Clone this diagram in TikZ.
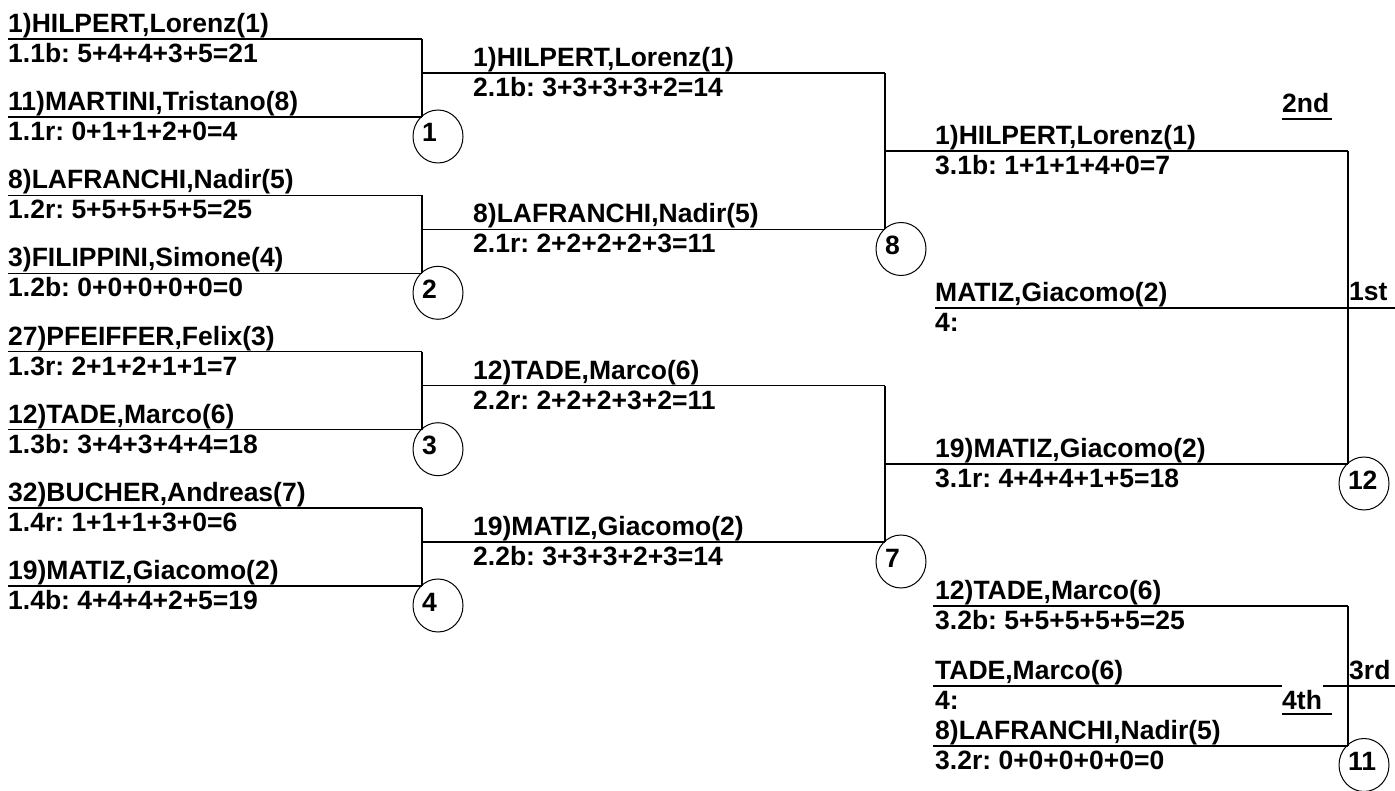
\documentclass[tikz,border=0pt]{standalone}
\usepackage{fontspec}
\setmainfont{Liberation Sans}
\usetikzlibrary{shapes.geometric}
\frenchspacing
\tikzset{
  ln/.style={line width=1.2pt, black},
  txt/.style={anchor=base west, inner sep=0pt, font=\fontsize{26.5}{30}\selectfont\bfseries},
  seed/.style={ellipse, draw, line width=1pt, minimum width=50pt, minimum height=53pt, inner sep=0pt,
    text height=11pt, text depth=0pt, font=\fontsize{26.5}{30}\selectfont\bfseries}
}
% #1 id, #2 x0, #3 x1, #4 text x, #5 y, #6 name, #7 score
\newcommand\bkslot[7]{%
  \coordinate (#1-l) at (#2,#5);
  \coordinate (#1-r) at (#3,#5);
  \draw[ln] (#1-l) -- (#1-r);
  \node[txt] (#1-n) at (#4,#5-6.5) {#6};
  \node[txt] (#1-s) at (#4,#5+23.7) {#7};
}
\begin{document}
\begin{tikzpicture}[x=1pt,y=-1pt]
\useasboundingbox (0,0) rectangle (1395,791);
% round 1
\bkslot{a1}{8}{422}{8}{39}{1)HILPERT,Lorenz(1)}{1.1b: 5+4+4+3+5=21}
\bkslot{b1}{8}{422}{8}{117}{11)MARTINI,Tristano(8)}{1.1r: 0+1+1+2+0=4}
\bkslot{a2}{8}{422}{8}{195.3}{8)LAFRANCHI,Nadir(5)}{1.2r: 5+5+5+5+5=25}
\bkslot{b2}{8}{422}{8}{273.3}{3)FILIPPINI,Simone(4)}{1.2b: 0+0+0+0+0=0}
\bkslot{a3}{8}{422}{8}{351.7}{27)PFEIFFER,Felix(3)}{1.3r: 2+1+2+1+1=7}
\bkslot{b3}{8}{422}{8}{429.7}{12)TADE,Marco(6)}{1.3b: 3+4+3+4+4=18}
\bkslot{a4}{8}{422}{8}{508}{32)BUCHER,Andreas(7)}{1.4r: 1+1+1+3+0=6}
\bkslot{b4}{8}{422}{8}{586}{19)MATIZ,Giacomo(2)}{1.4b: 4+4+4+2+5=19}
\draw[ln] (a1-r) -- (b1-r);
\draw[ln] (a2-r) -- (b2-r);
\draw[ln] (a3-r) -- (b3-r);
\draw[ln] (a4-r) -- (b4-r);
\node[seed] (c1) at (438,136.5) {\makebox[32pt][l]{1}};
\node[seed] (c2) at (438,292.8) {\makebox[32pt][l]{2}};
\node[seed] (c3) at (438,449.2) {\makebox[32pt][l]{3}};
\node[seed] (c4) at (438,605.5) {\makebox[32pt][l]{4}};
% round 2
\bkslot{e1}{422}{885}{473}{73}{1)HILPERT,Lorenz(1)}{2.1b: 3+3+3+3+2=14}
\bkslot{f1}{422}{885}{473}{229.3}{8)LAFRANCHI,Nadir(5)}{2.1r: 2+2+2+2+3=11}
\bkslot{e2}{422}{885}{473}{385.7}{12)TADE,Marco(6)}{2.2r: 2+2+2+3+2=11}
\bkslot{f2}{422}{885}{473}{542}{19)MATIZ,Giacomo(2)}{2.2b: 3+3+3+2+3=14}
\draw[ln] (e1-r) -- (f1-r);
\draw[ln] (e2-r) -- (f2-r);
\node[seed] (c8) at (901,249) {\makebox[32pt][l]{8}};
\node[seed] (c7) at (901,561.5) {\makebox[32pt][l]{7}};
% final
\bkslot{g1}{885}{1348}{935}{151}{1)HILPERT,Lorenz(1)}{3.1b: 1+1+1+4+0=7}
\bkslot{h1}{885}{1348}{935}{464}{19)MATIZ,Giacomo(2)}{3.1r: 4+4+4+1+5=18}
\draw[ln] (g1-r) -- (h1-r);
\node[seed] (c12) at (1364,483.5) {\makebox[32pt][l]{12}};
% third place
\bkslot{g2}{933}{1348}{935}{606}{12)TADE,Marco(6)}{3.2b: 5+5+5+5+5=25}
\bkslot{h2}{933}{1348}{935}{746}{8)LAFRANCHI,Nadir(5)}{3.2r: 0+0+0+0+0=0}
\draw[ln] (g2-r) -- (h2-r);
\node[seed] (c11) at (1364,765) {\makebox[32pt][l]{11}};
% winners
\bkslot{w1}{935}{1395}{935}{308}{MATIZ,Giacomo(2)}{4:}
\node[txt] (first) at (1349,301) {1st};
\node[txt] (second) at (1282,113) {2nd};
\coordinate (u2l) at (1282,119);
\coordinate (u2r) at (1332,119);
\draw[ln] (u2l) -- (u2r);
\coordinate (w3a) at (933,686);
\coordinate (w3b) at (1282,686);
\coordinate (w3c) at (1323,686);
\coordinate (w3d) at (1395,686);
\draw[ln] (w3a) -- (w3b);
\draw[ln] (w3c) -- (w3d);
\node[txt] (w3-n) at (935,679.5) {TADE,Marco(6)};
\node[txt] (w3-s) at (935,709.7) {4:};
\node[txt] (third) at (1349,679.5) {3rd};
\node[txt] (fourth) at (1282,709) {4th};
\coordinate (u4l) at (1282,714);
\coordinate (u4r) at (1332,714);
\draw[ln] (u4l) -- (u4r);
\end{tikzpicture}
\end{document}
